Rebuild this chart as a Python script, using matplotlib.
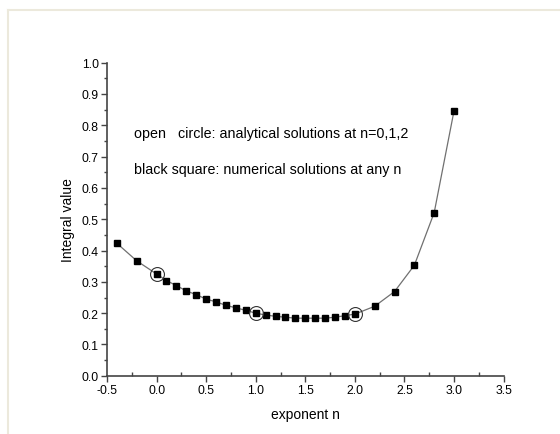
import matplotlib
matplotlib.use("Agg")
import matplotlib.pyplot as plt
from matplotlib.ticker import MultipleLocator
from matplotlib.lines import Line2D

plt.rcParams['font.family'] = ['Liberation Sans', 'DejaVu Sans']

# numerical solutions (black squares)
n_values = [-0.4, -0.2, 0.0, 0.1, 0.2, 0.3, 0.4, 0.5, 0.6, 0.7, 0.8, 0.9, 1.0,
            1.1, 1.2, 1.3, 1.4, 1.5, 1.6, 1.7, 1.8, 1.9, 2.0, 2.2, 2.4, 2.6, 2.8, 3.0]
integral_values = [0.423, 0.367, 0.325, 0.304, 0.288, 0.271, 0.259, 0.245, 0.236,
                   0.225, 0.217, 0.209, 0.200, 0.194, 0.190, 0.187, 0.184, 0.184,
                   0.184, 0.184, 0.187, 0.192, 0.197, 0.222, 0.269, 0.353, 0.521, 0.846]

# analytical solutions (open circles)
n_analytic = [0.0, 1.0, 2.0]
integral_analytic = [0.325, 0.200, 0.197]

fig = plt.figure(figsize=(5.6, 4.35), dpi=100)
fig.patch.set_facecolor('white')
# light frame lines (top and left)
fig.add_artist(Line2D([8/560, 1], [1 - 10.5/435, 1 - 10.5/435], color='#ECE9DC', lw=1.5,
                      transform=fig.transFigure))
fig.add_artist(Line2D([8/560, 8/560], [0, 1 - 10.5/435], color='#ECE9DC', lw=1.5,
                      transform=fig.transFigure))

ax = fig.add_axes([107/560, 1 - 376.8/435, (503.6 - 107)/560, (376.8 - 63.6)/435])

ax.plot(n_values, integral_values, color='#707070', lw=0.9, zorder=2)
ax.plot(n_values, integral_values, ls='none', marker='s', ms=4.4, color='black',
        zorder=3)
ax.plot(n_analytic, integral_analytic, ls='none', marker='o', ms=10,
        mfc='none', mec='#333333', mew=0.8, zorder=4)

ax.set_xlim(-0.5, 3.5)
ax.set_ylim(0.0, 1.0)
ax.xaxis.set_major_locator(MultipleLocator(0.5))
ax.xaxis.set_minor_locator(MultipleLocator(0.25))
ax.yaxis.set_major_locator(MultipleLocator(0.1))
ax.yaxis.set_minor_locator(MultipleLocator(0.05))
ax.xaxis.set_major_formatter(plt.FuncFormatter(lambda v, p: f"{v:.1f}"))
ax.yaxis.set_major_formatter(plt.FuncFormatter(lambda v, p: f"{v:.1f}"))

for s in ['top', 'right']:
    ax.spines[s].set_visible(False)
for s in ['left', 'bottom']:
    ax.spines[s].set_color('#444444')
    ax.spines[s].set_linewidth(1.2)

ax.tick_params(axis='both', which='major', direction='out', length=4, width=1,
               color='#444444', labelsize=8.8, pad=2)
ax.tick_params(axis='x', which='minor', direction='in', length=3, width=1,
               color='#444444')
ax.tick_params(axis='y', which='minor', direction='out', length=2.5, width=1,
               color='#444444')

ax.set_xlabel('exponent n', fontsize=10, labelpad=8)
ax.set_ylabel('Integral value', fontsize=10, labelpad=5)

ax.text(-0.226, 0.775, 'open   circle: analytical solutions at n=0,1,2',
        fontsize=10.3, va='center', ha='left')
ax.text(-0.226, 0.661, 'black square: numerical solutions at any n',
        fontsize=10.3, va='center', ha='left')

fig.savefig('out.png', dpi=100)
